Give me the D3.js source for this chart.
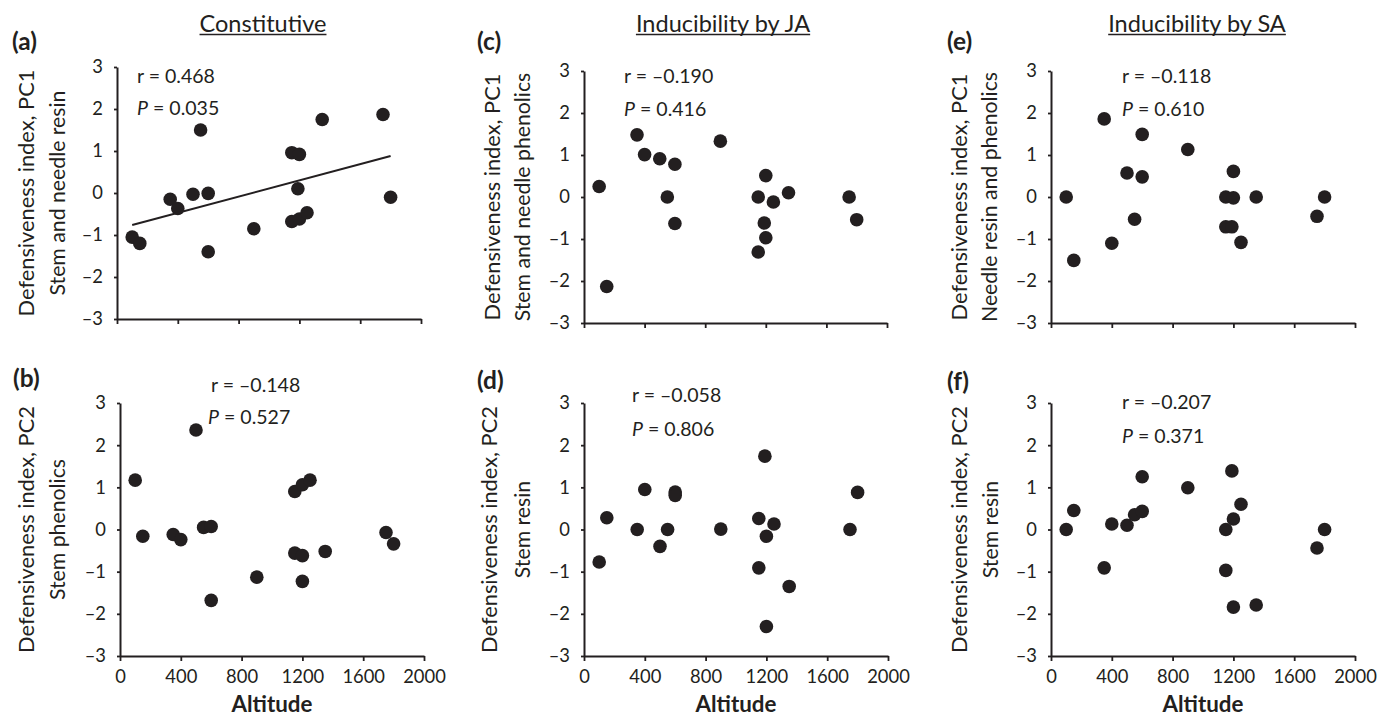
<!DOCTYPE html>
<html>
<head>
<meta charset="utf-8">
<script src="https://cdn.jsdelivr.net/npm/d3@7"></script>
<style>
  body { margin: 0; background: #fff; }
  text { font-family: Lato, "Open Sans", sans-serif; fill: #231f20; }
</style>
</head>
<body>
<div id="chart"></div>
<script>
// Axis ticks shared by every panel
var xTicks = [0, 400, 800, 1200, 1600, 2000];
var yTicks = [-3, -2, -1, 0, 1, 2, 3];

// Text
var columnTitles = ["Constitutive", "Inducibility by JA", "Inducibility by SA"];
var panelLetters = ["(a)", "(b)", "(c)", "(d)", "(e)", "(f)"];
var yTitleTop = ["Defensiveness index, PC1", "Defensiveness index, PC2",
                 "Defensiveness index, PC1", "Defensiveness index, PC2",
                 "Defensiveness index, PC1", "Defensiveness index, PC2"];
var yTitleSub = ["Stem and needle resin", "Stem phenolics",
                 "Stem and needle phenolics", "Stem resin",
                 "Needle resin and phenolics", "Stem resin"];
var rValues = ["0.468", "\u20130.148", "\u20130.190", "\u20130.058", "\u20130.118", "\u20130.207"];
var pValues = ["0.035", "0.527", "0.416", "0.806", "0.610", "0.371"];

// (a) constitutive PC1
var altA = [100, 150, 350, 400, 500, 550, 600, 600, 900, 1150, 1200, 1190, 1150, 1200, 1250, 1350, 1750, 1800];
var pcA  = [-1.05, -1.2, -0.15, -0.37, -0.03, 1.5, -0.01, -1.4, -0.85, 0.96, 0.92, 0.1, -0.68, -0.62, -0.47, 1.75, 1.87, -0.1];
// regression line in (a)
var fitAlt = [100, 1800];
var fitPc  = [-0.76, 0.88];

// (b) constitutive PC2
var altB = [100, 150, 350, 400, 500, 550, 600, 600, 900, 1150, 1200, 1250, 1150, 1200, 1200, 1350, 1750, 1800];
var pcB  = [1.17, -0.16, -0.12, -0.24, 2.36, 0.05, 0.07, -1.68, -1.13, 0.9, 1.06, 1.17, -0.56, -0.62, -1.23, -0.52, -0.07, -0.34];

// (c) JA PC1
var altC = [100, 150, 350, 400, 500, 550, 600, 600, 900, 1150, 1200, 1190, 1200, 1150, 1250, 1350, 1750, 1800];
var pcC  = [0.25, -2.13, 1.48, 1.01, 0.91, 0, 0.78, -0.63, 1.33, 0, 0.51, -0.62, -0.97, -1.31, -0.12, 0.1, 0, -0.54];

// (d) JA PC2
var altD = [100, 150, 350, 400, 500, 550, 600, 600, 900, 1190, 1150, 1250, 1200, 1150, 1350, 1200, 1750, 1800];
var pcD  = [-0.77, 0.28, 0, 0.95, -0.4, 0, 0.89, 0.81, 0.01, 1.74, 0.26, 0.13, -0.16, -0.91, -1.35, -2.3, 0, 0.88];

// (e) SA PC1
var altE = [100, 150, 350, 400, 500, 550, 600, 600, 900, 1150, 1200, 1200, 1150, 1190, 1250, 1350, 1750, 1800];
var pcE  = [0, -1.51, 1.86, -1.1, 0.57, -0.53, 1.49, 0.48, 1.13, 0, 0.61, -0.02, -0.71, -0.71, -1.08, 0, -0.46, 0];

// (f) SA PC2
var altF = [100, 150, 350, 400, 500, 550, 600, 600, 900, 1150, 1190, 1200, 1250, 1150, 1200, 1350, 1750, 1800];
var pcF  = [0, 0.45, -0.91, 0.13, 0.1, 0.35, 0.43, 1.25, 0.99, 0, 1.39, 0.25, 0.6, -0.97, -1.84, -1.79, -0.44, 0];

var panelX = [altA, altB, altC, altD, altE, altF];
var panelY = [pcA, pcB, pcC, pcD, pcE, pcF];

// Panel frames and text anchors (pixels)
var layout = [
  {left: 117,  right: 421,  top: 67,  bottom: 319, letter: [12, 50],   r: [137, 83],   p: [137, 115], yt: [33.5, 65]},
  {left: 120,  right: 424,  top: 403, bottom: 656, letter: [13, 387],  r: [211, 392],  p: [208, 424], yt: [33.5, 65]},
  {left: 584,  right: 887,  top: 71,  bottom: 323, letter: [477, 50],  r: [624, 83],   p: [624, 116], yt: [500, 530]},
  {left: 584,  right: 888,  top: 403, bottom: 656, letter: [477, 389], r: [632, 402],  p: [632, 436], yt: [497, 530]},
  {left: 1051, right: 1355, top: 71,  bottom: 323, letter: [947, 50],  r: [1122, 83],  p: [1122, 116], yt: [967, 997]},
  {left: 1051, right: 1355, top: 403, bottom: 656, letter: [947, 390], r: [1122, 409], p: [1122, 443], yt: [967, 998]}
];
var titleCenters = [263, 723, 1197];

var ink = "#231f20";

var svg = d3.select("#chart").append("svg")
    .attr("width", 1380)
    .attr("height", 717);

// font size that makes a string as wide as in the reference
function fitSize(str, target, weight) {
  var t = svg.append("text")
      .style("font-size", "100px")
      .style("font-weight", weight || "normal")
      .text(str);
  var w = t.node().getComputedTextLength();
  t.remove();
  return 100 * target / w;
}

function draw() {
  var tickSize = fitSize("400", 32);
  var statSize = fitSize("r = 0.468", 78);
  var titleSize = fitSize("Constitutive", 127);
  var ySize = fitSize("Defensiveness index, PC1", 247);
  var ySubSize = fitSize("Stem and needle resin", 205);
  var altSize = fitSize("Altitude", 81, "bold");
  var letterSize = fitSize("(a)", 25, "bold");

  // column titles, underlined
  columnTitles.forEach(function(title, i) {
    var t = svg.append("text")
        .attr("x", titleCenters[i])
        .attr("y", 32)
        .attr("text-anchor", "middle")
        .style("font-size", titleSize + "px")
        .text(title);
    var bb = t.node().getBBox();
    svg.append("line")
        .attr("x1", bb.x).attr("x2", bb.x + bb.width)
        .attr("y1", 34.5).attr("y2", 34.5)
        .attr("stroke", ink)
        .attr("stroke-width", 1.3);
  });

  layout.forEach(function(L, i) {
    var bottomRow = (i % 2 === 1);

    var x = d3.scaleLinear().domain([0, 2000]).range([L.left, L.right]);
    var y = d3.scaleLinear().domain([-3, 3]).range([L.bottom, L.top]);

    var g = svg.append("g");

    var xAxis = d3.axisBottom(x)
        .tickValues(xTicks)
        .tickSizeInner(5)
        .tickSizeOuter(0)
        .tickPadding(9)
        .tickFormat(bottomRow ? d3.format("d") : function() { return ""; });

    var yAxis = d3.axisLeft(y)
        .tickValues(yTicks)
        .tickSizeInner(3)
        .tickSizeOuter(0)
        .tickPadding(11)
        .tickFormat(function(d) { return d < 0 ? "\u2013" + Math.abs(d) : d; });

    var gx = g.append("g")
        .attr("transform", "translate(0," + L.bottom + ")")
        .call(xAxis);
    var gy = g.append("g")
        .attr("transform", "translate(" + L.left + ",0)")
        .call(yAxis);

    [gx, gy].forEach(function(ax) {
      ax.select(".domain").attr("stroke", ink).attr("stroke-width", 2);
      ax.selectAll(".tick line").attr("stroke", ink).attr("stroke-width", 1.8);
      ax.selectAll(".tick text")
          .style("font-family", "Lato, 'Open Sans', sans-serif")
          .style("font-size", tickSize + "px")
          .attr("fill", ink);
    });

    // points
    g.selectAll("circle")
        .data(panelX[i])
        .enter()
        .append("circle")
        .attr("cx", function(d) { return x(d); })
        .attr("cy", function(d, j) { return y(panelY[i][j]); })
        .attr("r", 6.8)
        .attr("fill", ink);

    // fitted line only in (a)
    if (i === 0) {
      g.append("line")
          .attr("x1", x(fitAlt[0])).attr("y1", y(fitPc[0]))
          .attr("x2", x(fitAlt[1])).attr("y2", y(fitPc[1]))
          .attr("stroke", ink)
          .attr("stroke-width", 2);
    }

    // statistics
    g.append("text")
        .attr("x", L.r[0]).attr("y", L.r[1])
        .style("font-size", statSize + "px")
        .text("r = " + rValues[i]);
    var pt = g.append("text")
        .attr("x", L.p[0]).attr("y", L.p[1])
        .style("font-size", statSize + "px");
    pt.append("tspan").style("font-style", "italic").text("P");
    pt.append("tspan").text(" = " + pValues[i]);

    // panel letter
    g.append("text")
        .attr("x", L.letter[0]).attr("y", L.letter[1])
        .style("font-size", letterSize + "px")
        .style("font-weight", "bold")
        .text(panelLetters[i]);

    // y axis titles
    var cy = (L.top + L.bottom) / 2;
    g.append("text")
        .attr("transform", "translate(" + L.yt[0] + "," + cy + ") rotate(-90)")
        .attr("text-anchor", "middle")
        .style("font-size", ySize + "px")
        .text(yTitleTop[i]);
    g.append("text")
        .attr("transform", "translate(" + L.yt[1] + "," + cy + ") rotate(-90)")
        .attr("text-anchor", "middle")
        .style("font-size", ySubSize + "px")
        .text(yTitleSub[i]);

    // x axis title on the bottom row
    if (bottomRow) {
      g.append("text")
          .attr("x", (L.left + L.right) / 2)
          .attr("y", 712)
          .attr("text-anchor", "middle")
          .style("font-size", altSize + "px")
          .style("font-weight", "bold")
          .text("Altitude");
    }
  });
}

if (document.fonts && document.fonts.ready) {
  document.fonts.ready.then(draw);
} else {
  draw();
}
</script>
</body>
</html>
